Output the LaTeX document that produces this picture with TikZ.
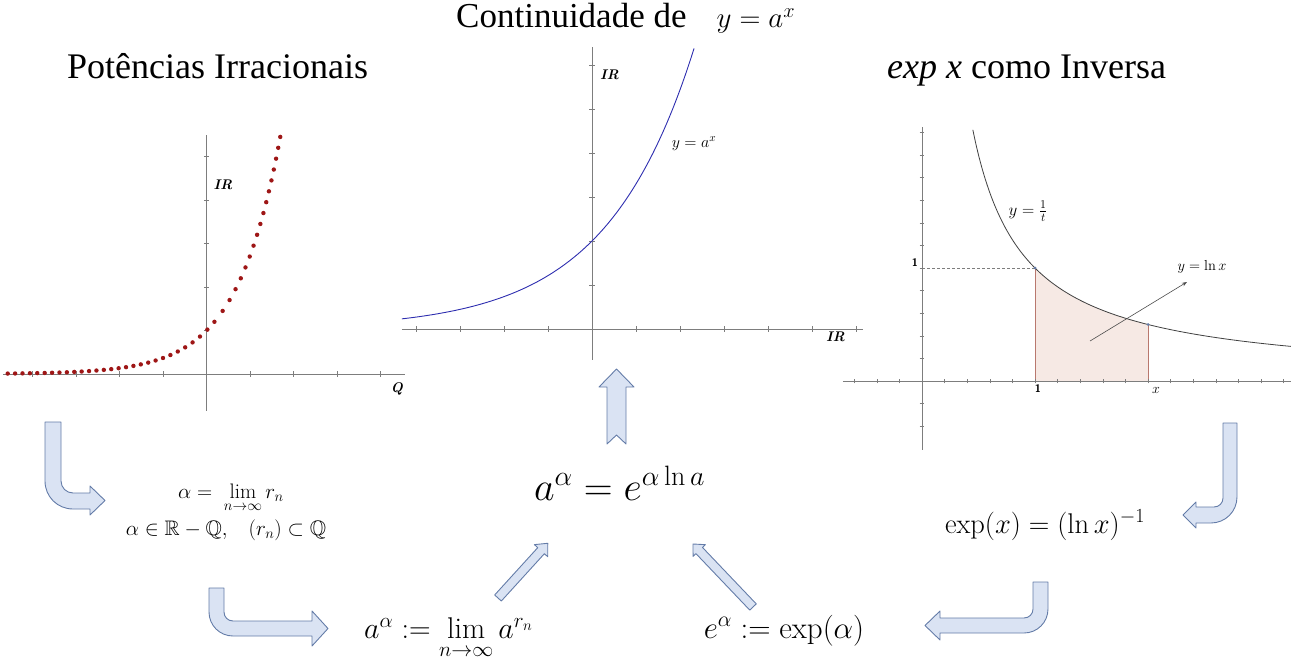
\RequirePackage{fix-cm}
\documentclass[tikz,border=0pt]{standalone}
\usepackage{fontspec}
\usepackage{amsmath}
\usepackage{amssymb}
\newfontfamily\tnr{Liberation Serif}
\usetikzlibrary{arrows.meta}
\definecolor{blkfill}{RGB}{218,227,243}
\definecolor{blkline}{RGB}{100,124,168}
\definecolor{dotred}{RGB}{158,22,22}
\definecolor{curveblue}{RGB}{45,45,175}
\definecolor{axisgray}{RGB}{125,125,125}
\definecolor{areafill}{RGB}{246,233,228}
\definecolor{areaedge}{RGB}{185,120,110}

\begin{document}
\begin{tikzpicture}[x=1pt, y=-1pt,
  blk/.style={draw=blkline, fill=blkfill, line width=0.9pt, line join=round},
  ax/.style={draw=axisgray, line width=0.7pt},
  tk/.style={draw=axisgray, line width=0.5pt},
  ttl/.style={anchor=base west, inner sep=0pt, font=\fontsize{36}{42}\tnr},
  fml/.style={anchor=base, inner sep=0pt},
  glbl/.style={inner sep=0pt, font=\fontsize{14}{16}\selectfont}]
\useasboundingbox (0,0) rectangle (1291,669);

% titles
\node[ttl] (tpot) at (67,79) {Potências Irracionais};
\node[ttl, font=\fontsize{35}{40}\tnr] (tcont) at (456,28) {Continuidade de\hspace{30pt}{\fontsize{29}{34}\selectfont$y=a^x$}};
\node[ttl] (texp) at (887,78) {\textit{exp x} como Inversa};

% irrational powers (dotted)
\begin{scope}[shift={(206.5,374)}, x=43.5pt, y=43.5pt]
  \draw[ax] (-4.68,0) -- (4.56,0);
  \draw[ax] (0,-0.85) -- (0,5.49);
  \foreach \i in {-4,-3,-2,-1,1,2,3,4} \draw[tk] (\i,-0.06) -- (\i,0.06);
  \foreach \j in {1,...,5} \draw[tk] (-0.06,\j) -- (0.06,\j);
  \foreach \k in {0,...,27} {
    \pgfmathsetmacro{\xv}{-4.57+0.17*\k}
    \fill[dotred] (\xv,{exp(\xv)}) circle (2.2pt);
  }
  \foreach \k in {0,...,17} {
    \pgfmathsetmacro{\yv}{1.2+0.25*\k}
    \pgfmathsetmacro{\xv}{ln(\yv)}
    \fill[dotred] (\xv,\yv) circle (2.2pt);
  }
\end{scope}
\node[glbl] (irl) at (223,185) {\textbf{\textit{IR}}};
\node[glbl] (ql) at (397,389) {\textbf{\textit{Q}}};

% continuity of a^x
\begin{scope}[shift={(592,329)}, x=44pt, y=44pt]
  \draw[ax] (-4.32,0) -- (6.16,0);
  \draw[ax] (0,-0.7) -- (0,6.41);
  \foreach \i in {-4,-3,-2,-1,1,2,3,4,5,6} \draw[tk] (\i,-0.06) -- (\i,0.06);
  \foreach \j in {1,...,6} \draw[tk] (-0.06,\j) -- (0.06,\j);
  \draw[curveblue, line width=0.9pt] plot[domain=-4.32:2.32, samples=100, smooth] (\x,{2*exp(\x/2)});
\end{scope}
\node[glbl] (irm) at (609.5,75) {\textbf{\textit{IR}}};
\node[glbl, font=\fontsize{16}{18}\selectfont] (axl) at (694,144) {$y=a^x$};
\node[glbl] (irr) at (835.5,337) {\textbf{\textit{IR}}};

% exp as inverse
\begin{scope}[shift={(922,381)}, x=113pt, y=113pt]
  \fill[areafill] (1,0) -- plot[domain=1:2, samples=40, smooth] (\x,{1/\x}) -- (2,0) -- cycle;
  \draw[areaedge, line width=0.6pt] (1,0) -- (1,1) (2,0) -- (2,0.5);
  \draw[ax] (-0.7,0) -- (3.27,0);
  \draw[ax] (0,-0.61) -- (0,2.25);
  \foreach \i in {-3,-2,-1,1,2,...,16} \draw[tk] (0.2*\i,-0.02) -- (0.2*\i,0.02);
  \foreach \j in {-2,-1,1,2,...,11} \draw[tk] (-0.02,0.2*\j) -- (0.02,0.2*\j);
  \draw[axisgray, densely dashed, line width=0.6pt] (0,1) -- (1,1);
  \draw[black!75, line width=0.8pt] plot[domain=0.45:3.27, samples=100, smooth] (\x,{1/\x});
  \fill[blkline] (1,1) circle (1.5pt) (2,0.5) circle (1.5pt);
  \coordinate (lnfrom) at (1.487,0.354);
  \coordinate (lnto) at (2.345,0.876);
  \draw[black!70, line width=0.6pt, -{Stealth[length=5pt]}] (lnfrom) -- (lnto);
\end{scope}
\node[glbl, font=\fontsize{17}{19}\selectfont] (recl) at (1028,211) {$y=\frac{1}{t}$};
\node[glbl, font=\fontsize{11}{13}\sffamily\bfseries] (oney) at (915,263) {1};
\node[glbl, font=\fontsize{11}{13}\sffamily\bfseries] (onex) at (1038,389) {1};
\node[glbl] (xl) at (1156,390) {$x$};
\node[glbl, font=\fontsize{14.5}{17}\selectfont] (lnl) at (1202,267) {$y=\ln x$};

% formulas
\node[fml, font=\fontsize{21}{25}\selectfont] (flim) at (231,498) {$\alpha=\;\lim\limits_{n\to\infty} r_n$};
\node[fml, font=\fontsize{21}{25}\selectfont] (fset) at (226,535) {$\alpha\in\mathbb{R}-\mathbb{Q},\;\;\;(r_n)\subset\mathbb{Q}$};
\node[fml, font=\fontsize{40}{46}\selectfont] (fmain) at (619.5,500) {$a^\alpha=e^{\alpha\ln a}$};
\node[fml, font=\fontsize{30}{36}\selectfont] (fdef) at (448.5,638) {$a^\alpha:=\lim\limits_{n\to\infty}a^{r_n}$};
\node[fml, font=\fontsize{31}{37}\selectfont] (fexp) at (784,638) {$e^\alpha:=\exp(\alpha)$};
\node[fml, font=\fontsize{28.5}{34}\selectfont] (finv) at (1045,533) {$\exp(x)=(\ln x)^{-1}$};

% block arrows
\draw[blk] (45,422) -- (45,481) .. controls (45,496.7) and (57.5,509) .. (73,509) -- (90,509)
  -- (90,515) -- (105,500.5) -- (90,486) -- (90,493) -- (73,493)
  .. controls (66.4,493) and (61,487.6) .. (61,481) -- (61,422) -- cycle;
\draw[blk] (209,588) -- (209,612) .. controls (209,625.3) and (219.7,636) .. (233,636) -- (312,636)
  -- (312,646) -- (328,628.5) -- (312,611) -- (312,621) -- (233,621)
  .. controls (228,621) and (224,617) .. (224,612) -- (224,588) -- cycle;
\draw[blk] (1237,423) -- (1237,497) .. controls (1237,511.4) and (1225.4,523) .. (1211,523) -- (1196,523)
  -- (1196,528) -- (1183,515) -- (1196,502) -- (1196,507) -- (1214,507)
  .. controls (1219,507) and (1223,503) .. (1223,498) -- (1223,423) -- cycle;
\draw[blk] (1048,582) -- (1048,609) .. controls (1048,622.3) and (1037.3,633) .. (1024,633) -- (940,633)
  -- (940,640) -- (925,625.5) -- (940,611) -- (940,618) -- (1024,618)
  .. controls (1029,618) and (1033,614) .. (1033,609) -- (1033,582) -- cycle;
\draw[blk] (607,444) -- (616.5,435) -- (626,444) -- (626,387) -- (634,387) -- (616.5,369)
  -- (599,387) -- (607,387) -- cycle;
\draw[blk, shift={(498,598)}, rotate=47.7] (0,-4.5) -- (64,-4.5) -- (64,-9) -- (74,0)
  -- (64,9) -- (64,4.5) -- (0,4.5) -- cycle;
\draw[blk, shift={(753,607)}, rotate=133.6] (0,-4.5) -- (78,-4.5) -- (78,-8.5) -- (87,0)
  -- (78,8.5) -- (78,4.5) -- (0,4.5) -- cycle;
\end{tikzpicture}
\end{document}
